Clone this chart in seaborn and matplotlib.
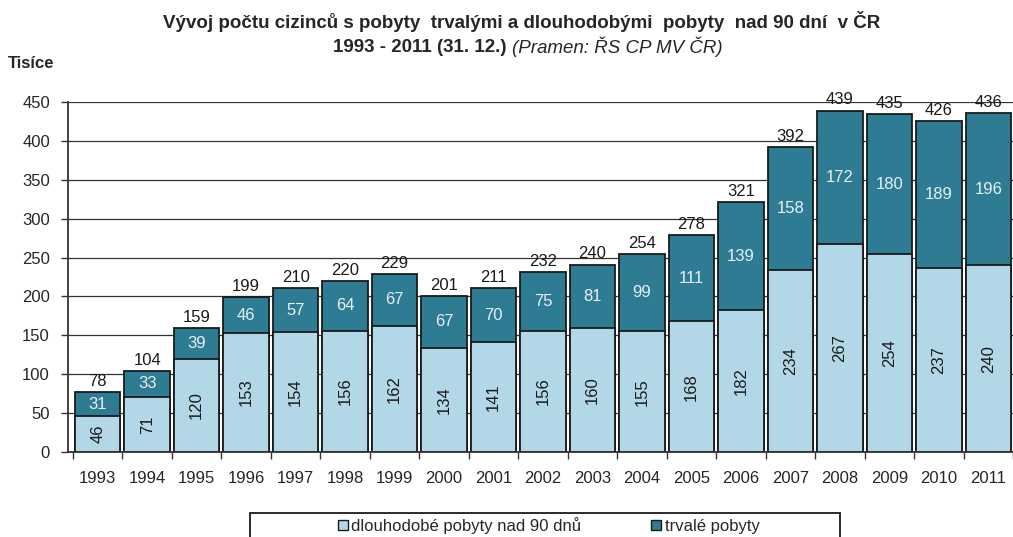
import matplotlib
matplotlib.use("Agg")
import matplotlib.pyplot as plt
import seaborn as sns
import pandas as pd
from matplotlib.patches import Patch, Rectangle

years = [str(y) for y in range(1993, 2012)]
dlouhodobe = [46, 71, 120, 153, 154, 156, 162, 134, 141, 156, 160, 155, 168, 182, 234, 267, 254, 237, 240]
trvale = [31, 33, 39, 46, 57, 64, 67, 67, 70, 75, 81, 99, 111, 139, 158, 172, 180, 189, 196]
totals = [78, 104, 159, 199, 210, 220, 229, 201, 211, 232, 240, 254, 278, 321, 392, 439, 435, 426, 436]
yticks = [0, 50, 100, 150, 200, 250, 300, 350, 400, 450]

c_light = "#B2D8E8"
c_dark = "#2E7C93"

sns.set_theme(style="white")
plt.rcParams['font.family'] = ['Liberation Sans', 'DejaVu Sans']

df = pd.DataFrame({"rok": years, "dlouho": dlouhodobe, "trvale": trvale})
df["soucet"] = df["dlouho"] + df["trvale"]

W, H = 1013, 537
fig = plt.figure(figsize=(W / 100, H / 100), dpi=100)
ax = fig.add_axes([68 / W, 85 / H, 945 / W, 350 / H])

ax.set_axisbelow(True)
ax.yaxis.grid(True, color="#333333", linewidth=0.9)
ax.xaxis.grid(False)

sns.barplot(data=df, x="rok", y="soucet", color=c_dark, saturation=1, width=0.92,
            edgecolor="#1a1a1a", linewidth=1.3, ax=ax)
sns.barplot(data=df, x="rok", y="dlouho", color=c_light, saturation=1, width=0.92,
            edgecolor="#1a1a1a", linewidth=1.3, ax=ax)

fs = 12
for i in range(len(years)):
    d = dlouhodobe[i]
    t = trvale[i]
    ax.text(i, d / 2, str(d), rotation=90, ha="center", va="center", fontsize=fs, color="#1a1a1a")
    ax.text(i, d + t / 2, str(t), ha="center", va="center", fontsize=fs, color="#e8f0f4")
    ax.text(i, d + t + 4, str(totals[i]), ha="center", va="bottom", fontsize=fs, color="#1a1a1a")

ax.set_ylim(0, 450)
ax.set_xlim(-0.6, len(years) - 0.52)
ax.set_yticks(yticks)
ax.set_yticklabels([str(v) for v in yticks], fontsize=fs)
ax.set_xlabel("")
ax.set_ylabel("")
ax.tick_params(axis="x", labelsize=fs, length=0, pad=14)
ax.tick_params(axis="y", left=True, length=5, width=1, color="#333333", pad=8)
for s in ["top", "right"]:
    ax.spines[s].set_visible(False)
ax.spines["left"].set_color("#333333")
ax.spines["bottom"].set_color("#333333")
ax.spines["left"].set_linewidth(1.3)
ax.spines["bottom"].set_linewidth(1.3)
ax.set_xticks([i + 0.5 for i in range(-1, len(years))], minor=True)
ax.tick_params(axis="x", which="minor", bottom=True, length=5, width=1, color="#333333")

tfam = ['Liberation Sans Narrow', 'Liberation Sans', 'DejaVu Sans']
fig.text(0.515, 1 - 22 / H, "Vývoj počtu cizinců s pobyty  trvalými a dlouhodobými  pobyty  nad 90 dní  v ČR",
         ha="center", va="center", fontsize=13.5, fontweight="bold", family=tfam)
fig.text(0.505, 1 - 47 / H, "1993 - 2011 (31. 12.) ", ha="right", va="center", fontsize=13.5,
         fontweight="bold", family=tfam)
fig.text(0.505, 1 - 47 / H, "(Pramen: ŘS CP MV ČR)", ha="left", va="center", fontsize=13.5,
         style="italic", family=tfam)
fig.text(8 / W, 1 - 63 / H, "Tisíce", ha="left", va="center", fontsize=12, fontweight="bold")

# legend frame (box extends beyond the bottom edge, as in the reference)
fig.add_artist(Rectangle((250 / W, -10 / H), 590 / W, (537 - 513 + 10) / H,
                         transform=fig.transFigure, facecolor="white", edgecolor="#1a1a1a",
                         linewidth=1.3, clip_on=False))
handles = [Patch(facecolor=c_light, edgecolor="#1a1a1a", linewidth=1),
           Patch(facecolor=c_dark, edgecolor="#1a1a1a", linewidth=1)]
leg = fig.legend(handles, ["dlouhodobé pobyty nad 90 dnů", "trvalé pobyty"],
                 loc="upper left", bbox_to_anchor=(338 / W, 1 - 517 / H),
                 ncol=2, frameon=False, fontsize=12, handlelength=0.6,
                 handleheight=0.6, handletextpad=0.2, columnspacing=4.2, borderpad=0,
                 borderaxespad=0)

fig.savefig("out.png", dpi=100)
